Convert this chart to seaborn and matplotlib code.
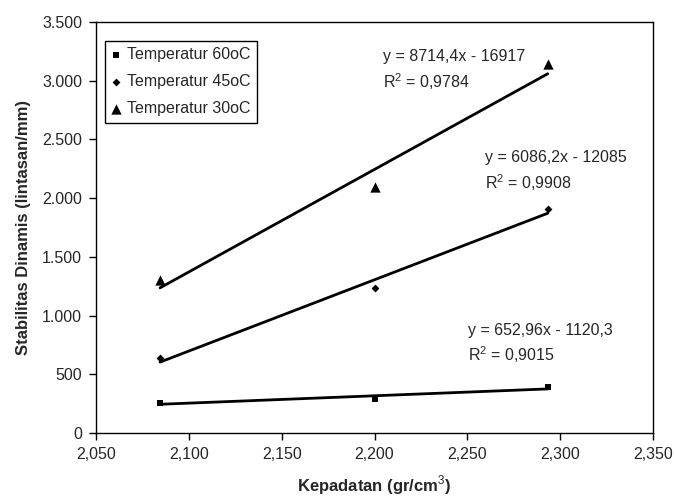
import matplotlib
matplotlib.use("Agg")
import matplotlib.pyplot as plt
import seaborn as sns
import pandas as pd
from matplotlib.ticker import FuncFormatter, MultipleLocator

# Data
kepadatan = [2.0845, 2.2000, 2.2933]
stab_60 = [258, 287, 392]
stab_45 = [635, 1235, 1910]
stab_30 = [1303, 2095, 3142]
series_labels = ["Temperatur 60oC", "Temperatur 45oC", "Temperatur 30oC"]
equations = ["y = 652,96x - 1120,3", "y = 6086,2x - 12085", "y = 8714,4x - 16917"]
r2_labels = ["R$^2$ = 0,9015", "R$^2$ = 0,9908", "R$^2$ = 0,9784"]

sns.set_style("ticks")
plt.rcParams["font.family"] = ["Liberation Sans", "DejaVu Sans"]
plt.rcParams["mathtext.fontset"] = "custom"
plt.rcParams["mathtext.rm"] = "Liberation Sans"

FS = 11.5

fig = plt.figure(figsize=(6.74, 5.0), dpi=100)
ax = fig.add_axes([96/674, 1-433/500, (653-96)/674, (433-22)/500])

series = [stab_60, stab_45, stab_30]
markers = ["s", "D", "^"]
msizes = [22, 16, 55]

for vals, lab, mk, ms in zip(series, series_labels, markers, msizes):
    df = pd.DataFrame({"x": kepadatan, "y": vals})
    sns.regplot(data=df, x="x", y="y", ax=ax, scatter=False, ci=None,
                truncate=True, line_kws={"color": "black", "lw": 2.0})
    sns.scatterplot(data=df, x="x", y="y", ax=ax, marker=mk, s=ms,
                    color="black", edgecolor="black", linewidth=0, label=lab,
                    zorder=5)

# Equation annotations (data coords)
ann_pos = [(2.2504, 869, 664), (2.2595, 2342, 2129), (2.2046, 3202, 2989)]
for (xx, y1, y2), eq, r2 in zip(ann_pos, equations, r2_labels):
    ax.text(xx, y1, eq, fontsize=FS, va="center", ha="left")
    ax.text(xx, y2, r2, fontsize=FS, va="center", ha="left")

ax.set_xlim(2.05, 2.35)
ax.set_ylim(0, 3500)
ax.xaxis.set_major_locator(MultipleLocator(0.05))
ax.yaxis.set_major_locator(MultipleLocator(500))
ax.xaxis.set_major_formatter(FuncFormatter(lambda v, p: f"{v:.3f}".replace(".", ",")))
ax.yaxis.set_major_formatter(FuncFormatter(lambda v, p: f"{int(round(v)):,}".replace(",", ".")))
ax.tick_params(axis="both", labelsize=FS, length=5, width=1, color="black",
               direction="out", pad=5)

ax.set_xlabel("Kepadatan (gr/cm$^3$)", fontsize=12, fontweight="bold", labelpad=8)
ax.set_ylabel("Stabilitas Dinamis (lintasan/mm)", fontsize=12, fontweight="bold", labelpad=8)

for sp in ax.spines.values():
    sp.set_visible(True)
    sp.set_color("black")
    sp.set_linewidth(1.0)

leg = ax.legend(loc="upper left", bbox_to_anchor=(0.016, 0.954), fontsize=FS,
                frameon=True, fancybox=False, edgecolor="black", framealpha=1,
                borderaxespad=0, handlelength=0.6, handletextpad=0.4,
                borderpad=0.4, labelspacing=0.75)
leg.get_frame().set_linewidth(1.0)

fig.savefig("out.png", dpi=100)
